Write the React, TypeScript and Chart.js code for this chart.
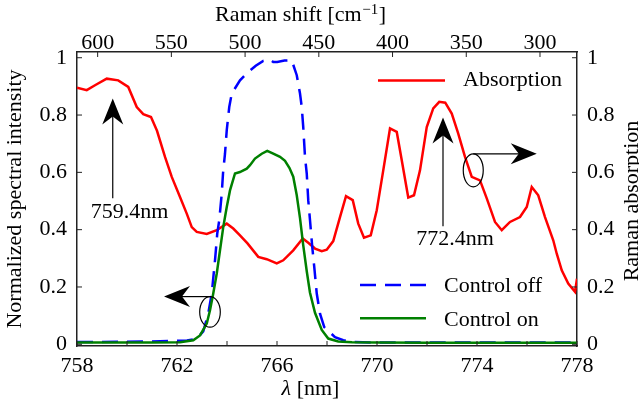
import React, { useEffect, useRef } from "react";
import { Chart, registerables } from "chart.js";

Chart.register(...registerables);

const FONT = '"Liberation Serif", "Times New Roman", serif';
const AXIS_COLOR = "#222";

// ---- data ----
const absLambda = [
  758.0, 758.39, 758.72, 759.19, 759.65, 760.05, 760.39, 760.65, 760.96, 761.2, 761.52, 761.79,
  762.12, 762.39, 762.59, 762.79, 763.19, 763.59, 763.99, 764.25, 764.5, 764.82, 765.25, 765.59,
  765.99, 766.25, 766.65, 767.03, 767.25, 767.52, 767.79, 767.99, 768.25, 768.52, 768.76, 769.03,
  769.25, 769.48, 769.75, 769.99, 770.25, 770.52, 770.79, 770.99, 771.25, 771.48, 771.72, 771.99,
  772.25, 772.49, 772.73, 772.99, 773.25, 773.52, 773.79, 774.12, 774.39, 774.72, 774.99, 775.32,
  775.72, 775.99, 776.19, 776.45, 776.72, 777.05, 777.19, 777.39, 777.65, 777.92, 778.0,
];
const absValue = [
  0.895, 0.887, 0.904, 0.927, 0.921, 0.898, 0.828, 0.803, 0.793, 0.745, 0.654, 0.584,
  0.514, 0.456, 0.409, 0.392, 0.385, 0.398, 0.421, 0.404, 0.382, 0.352, 0.305, 0.297,
  0.282, 0.293, 0.328, 0.369, 0.354, 0.334, 0.325, 0.33, 0.36, 0.444, 0.517, 0.503,
  0.421, 0.372, 0.38, 0.468, 0.607, 0.753, 0.741, 0.642, 0.512, 0.52, 0.607, 0.758,
  0.823, 0.846, 0.843, 0.805, 0.735, 0.654, 0.584, 0.572, 0.509, 0.427, 0.398, 0.427,
  0.444, 0.479, 0.549, 0.52, 0.444, 0.363, 0.316, 0.258, 0.212, 0.183, 0.229,
];

const offLambda = [
  758, 759, 760, 761, 762, 762.4, 762.8, 763.05, 763.25, 763.39, 763.52, 763.61, 763.69, 763.79,
  763.84, 763.92, 763.99, 764.09, 764.19, 764.52, 764.85, 765.15, 765.45, 765.72, 765.85, 766.01,
  766.3, 766.59, 766.79, 766.92, 766.99, 767.05, 767.12, 767.19, 767.25, 767.32, 767.41, 767.49,
  767.59, 767.72, 767.89, 768.32, 768.65, 769.04, 770, 772, 774, 776, 778,
];
const offValue = [
  0.008, 0.008, 0.009, 0.01, 0.012, 0.013, 0.02, 0.045, 0.107, 0.177, 0.293, 0.386, 0.433, 0.526,
  0.596, 0.665, 0.747, 0.828, 0.875, 0.921, 0.95, 0.972, 0.989, 0.994, 0.985, 0.985,
  0.99, 0.991, 0.939, 0.875, 0.828, 0.758, 0.654, 0.596, 0.503, 0.433, 0.34, 0.27,
  0.177, 0.107, 0.06, 0.025, 0.014, 0.008, 0.006, 0.006, 0.006, 0.006, 0.006,
];

const onLambda = [
  758, 759, 760, 761, 762.12, 762.65, 762.92, 763.19, 763.32, 763.45, 763.59, 763.72, 763.85,
  763.99, 764.12, 764.32, 764.52, 764.79, 764.92, 765.12, 765.39, 765.61, 765.85, 766.12, 766.32,
  766.5, 766.65, 766.79, 766.92, 767.05, 767.19, 767.32, 767.52, 767.79, 768.05, 768.45, 769, 770,
  772, 774, 776, 778,
];
const onValue = [
  0.006, 0.006, 0.006, 0.006, 0.007, 0.014, 0.031, 0.072, 0.119, 0.177, 0.247, 0.328, 0.409,
  0.479, 0.537, 0.596, 0.601, 0.613, 0.625, 0.648, 0.665, 0.675, 0.665, 0.654, 0.64,
  0.615, 0.585, 0.52, 0.44, 0.345, 0.255, 0.18, 0.11, 0.05, 0.02, 0.01, 0.007, 0.006,
  0.005, 0.005, 0.005, 0.005,
];

const lambdaTicks = [758, 760, 762, 764, 766, 768, 770, 772, 774, 776, 778];
const lambdaLabels = [758, 762, 766, 770, 774, 778];
const ramanTicks = [600, 550, 500, 450, 400, 350, 300];
const yTicks = [0, 0.2, 0.4, 0.6, 0.8, 1];

const seriesNames = ["Absorption", "Control off", "Control on"];
const peakLabels = ["759.4nm", "772.4nm"];
const peakLambda = [759.43, 772.64];
const peakTip = [0.858, 0.791];
const peakBase = [0.51, 0.412];
const peakTextLambda = [760.1, 773.12];
const peakTextValue = [0.439, 0.346];

// ---- axis ranges ----
const X_MIN = 758;
const X_MAX = 778;
const RAMAN_MIN = 274.9;
const RAMAN_MAX = 614.0;
const Y_MIN = -0.006;
const Y_MAX = 1.02;

const COLORS = { abs: "#ff0000", off: "#0000ff", on: "#008000" };
const DASH = [16, 9];
const LW = 2.5;

function pts(xs: number[], ys: number[]) {
  return xs.map((x, i) => ({ x, y: ys[i] }));
}

function arrowHead(ctx: CanvasRenderingContext2D, tx: number, ty: number, dx: number, dy: number) {
  const L = 26, W = 10.5, N = 18;
  const nx = -dy, ny = dx;
  const bx = tx - dx * L, by = ty - dy * L;
  ctx.beginPath();
  ctx.moveTo(tx, ty);
  ctx.lineTo(bx + nx * W, by + ny * W);
  ctx.lineTo(tx - dx * N, ty - dy * N);
  ctx.lineTo(bx - nx * W, by - ny * W);
  ctx.closePath();
  ctx.fill();
}

const overlay = {
  id: "overlay",
  afterDraw(chart: any) {
    const { ctx, chartArea: a, scales } = chart;
    const x = scales.x, y = scales.y, x2 = scales.x2, y2 = scales.y2;
    const TL = 5;
    ctx.save();
    // inward tick marks
    ctx.strokeStyle = AXIS_COLOR;
    ctx.lineWidth = 1;
    ctx.beginPath();
    x.ticks.forEach((t: any) => {
      const p = x.getPixelForValue(t.value);
      ctx.moveTo(p, a.bottom); ctx.lineTo(p, a.bottom - TL);
    });
    x2.ticks.forEach((t: any) => {
      const p = x2.getPixelForValue(t.value);
      ctx.moveTo(p, a.top); ctx.lineTo(p, a.top + TL);
    });
    y.ticks.forEach((t: any) => {
      const p = y.getPixelForValue(t.value);
      ctx.moveTo(a.left, p); ctx.lineTo(a.left + TL, p);
    });
    y2.ticks.forEach((t: any) => {
      const p = y2.getPixelForValue(t.value);
      ctx.moveTo(a.right, p); ctx.lineTo(a.right - TL, p);
    });
    ctx.stroke();

    // peak arrows and labels
    ctx.fillStyle = "#000";
    ctx.strokeStyle = "#000";
    ctx.lineWidth = 1.2;
    ctx.font = `22px ${FONT}`;
    ctx.textAlign = "center";
    ctx.textBaseline = "alphabetic";
    peakLabels.forEach((label, i) => {
      const px = x.getPixelForValue(peakLambda[i]);
      const tip = y.getPixelForValue(peakTip[i]);
      const base = y.getPixelForValue(peakBase[i]);
      ctx.beginPath();
      ctx.moveTo(px, base); ctx.lineTo(px, tip + 15);
      ctx.stroke();
      arrowHead(ctx, px, tip, 0, -1);
      ctx.fillText(label, x.getPixelForValue(peakTextLambda[i]), y.getPixelForValue(peakTextValue[i]));
    });

    // ellipse markers with axis-pointing arrows
    const markers = [
      { lx: 773.85, ly: 0.607, rx: 10, ry: 16.5, tipX: 776.39, dir: 1 },
      { lx: 763.32, ly: 0.113, rx: 10.3, ry: 15.3, tipX: 761.48, dir: -1 },
    ];
    markers.forEach((m) => {
      const cx = x.getPixelForValue(m.lx), cy = y.getPixelForValue(m.ly);
      ctx.beginPath();
      ctx.ellipse(cx, cy, m.rx, m.ry, 0, 0, Math.PI * 2);
      ctx.stroke();
      const ty = cy - m.ry;
      const tx = x.getPixelForValue(m.tipX);
      ctx.beginPath();
      ctx.moveTo(cx, ty); ctx.lineTo(tx - m.dir * 15, ty);
      ctx.stroke();
      arrowHead(ctx, tx, ty, m.dir, 0);
    });

    // legends
    ctx.textAlign = "left";
    ctx.lineWidth = LW;
    ctx.strokeStyle = COLORS.abs;
    ctx.beginPath();
    ctx.moveTo(a.right - 199, a.top + 28.5); ctx.lineTo(a.right - 132, a.top + 28.5);
    ctx.stroke();
    ctx.fillText(seriesNames[0], a.right - 114, a.top + 33.5);

    ctx.strokeStyle = COLORS.off;
    ctx.setLineDash(DASH);
    ctx.beginPath();
    ctx.moveTo(a.right - 217, a.bottom - 61); ctx.lineTo(a.right - 151, a.bottom - 61);
    ctx.stroke();
    ctx.setLineDash([]);
    ctx.fillText(seriesNames[1], a.right - 133, a.bottom - 54);

    ctx.strokeStyle = COLORS.on;
    ctx.beginPath();
    ctx.moveTo(a.right - 217, a.bottom - 27.7); ctx.lineTo(a.right - 151, a.bottom - 27.7);
    ctx.stroke();
    ctx.fillText(seriesNames[2], a.right - 133, a.bottom - 20.5);

    // top axis title with superscript
    const main = "Raman shift [cm";
    const sup = "\u22121";
    const end = "]";
    ctx.font = `22px ${FONT}`;
    const w1 = ctx.measureText(main).width;
    const w3 = ctx.measureText(end).width;
    ctx.font = `15px ${FONT}`;
    const w2 = ctx.measureText(sup).width;
    const total = w1 + w2 + w3 + 1;
    let sx = 300.5 - total / 2;
    const by = a.top - 31;
    ctx.font = `22px ${FONT}`;
    ctx.fillText(main, sx, by);
    sx += w1 + 0.5;
    ctx.font = `15px ${FONT}`;
    ctx.fillText(sup, sx, by - 7);
    sx += w2 + 0.5;
    ctx.font = `22px ${FONT}`;
    ctx.fillText(end, sx, by);

    // bottom axis title
    ctx.font = `italic 22px ${FONT}`;
    const wl = ctx.measureText("\u03bb").width;
    ctx.font = `22px ${FONT}`;
    const wr = ctx.measureText(" [nm]").width;
    let bx = 310.5 - (wl + wr) / 2;
    ctx.font = `italic 22px ${FONT}`;
    ctx.fillText("\u03bb", bx, a.bottom + 49);
    ctx.font = `22px ${FONT}`;
    ctx.fillText(" [nm]", bx + wl, a.bottom + 49);

    // right axis title (reads bottom-to-top)
    ctx.translate(a.right + 61, (a.top + a.bottom) / 2 + 2);
    ctx.rotate(-Math.PI / 2);
    ctx.textAlign = "center";
    ctx.fillText("Raman absorption", 0, 0);
    ctx.restore();
  },
};

export default function App() {
  const ref = useRef<HTMLCanvasElement>(null);
  useEffect(() => {
    document.body.style.margin = "0";
    const tickFont = { family: FONT, size: 22, lineHeight: 1 };
    const chart = new Chart(ref.current as HTMLCanvasElement, {
      type: "line",
      data: {
        datasets: [
          {
            label: seriesNames[2],
            data: pts(onLambda, onValue),
            borderColor: COLORS.on,
            borderWidth: LW,
            pointRadius: 0,
            tension: 0,
            fill: false,
            xAxisID: "x",
            yAxisID: "y",
          },
          {
            label: seriesNames[1],
            data: pts(offLambda, offValue),
            borderColor: COLORS.off,
            borderWidth: LW,
            borderDash: DASH,
            pointRadius: 0,
            tension: 0,
            fill: false,
            xAxisID: "x",
            yAxisID: "y",
          },
          {
            label: seriesNames[0],
            data: pts(absLambda, absValue),
            borderColor: COLORS.abs,
            borderWidth: LW,
            pointRadius: 0,
            tension: 0,
            fill: false,
            xAxisID: "x",
            yAxisID: "y2",
          },
        ],
      },
      options: {
        responsive: false,
        animation: false,
        events: [],
        devicePixelRatio: 1,
        layout: { padding: 0 },
        plugins: { legend: { display: false }, tooltip: { enabled: false } },
        scales: {
          x: {
            type: "linear",
            position: "bottom",
            min: X_MIN,
            max: X_MAX,
            afterBuildTicks: (s: any) => { s.ticks = lambdaTicks.map((v) => ({ value: v })); },
            afterFit: (s: any) => { s.height = 62; },
            grid: { display: false, drawTicks: false },
            border: { display: true, color: AXIS_COLOR, width: 1.5 },
            ticks: {
              autoSkip: false,
              maxRotation: 0,
              padding: 9,
              color: "#000",
              font: tickFont,
              callback: (v: any) => (lambdaLabels.includes(Number(v)) ? String(v) : ""),
            },
          },
          x2: {
            type: "linear",
            position: "top",
            min: RAMAN_MIN,
            max: RAMAN_MAX,
            reverse: true,
            afterBuildTicks: (s: any) => { s.ticks = ramanTicks.map((v) => ({ value: v })); },
            afterFit: (s: any) => { s.height = 52; },
            grid: { display: false, drawTicks: false },
            border: { display: true, color: AXIS_COLOR, width: 1.5 },
            ticks: {
              autoSkip: false,
              maxRotation: 0,
              padding: -2,
              color: "#000",
              font: tickFont,
              callback: (v: any) => String(v),
            },
          },
          y: {
            type: "linear",
            position: "left",
            min: Y_MIN,
            max: Y_MAX,
            afterBuildTicks: (s: any) => { s.ticks = yTicks.map((v) => ({ value: v })); },
            afterFit: (s: any) => { s.width = 77; },
            grid: { display: false, drawTicks: false },
            border: { display: true, color: AXIS_COLOR, width: 1.5 },
            title: {
              display: true,
              text: "Normalized spectral intensity",
              color: "#000",
              font: { family: FONT, size: 22 },
              padding: { top: 2, bottom: 0 },
            },
            ticks: {
              padding: 10,
              color: "#000",
              font: tickFont,
              callback: (v: any) => String(v),
            },
          },
          y2: {
            type: "linear",
            position: "right",
            min: Y_MIN,
            max: Y_MAX,
            afterBuildTicks: (s: any) => { s.ticks = yTicks.map((v) => ({ value: v })); },
            afterFit: (s: any) => { s.width = 62; },
            grid: { display: false, drawTicks: false },
            border: { display: true, color: AXIS_COLOR, width: 1.5 },
            ticks: {
              padding: 10,
              color: "#000",
              font: tickFont,
              callback: (v: any) => String(v),
            },
          },
        },
      },
      plugins: [overlay],
    } as any);
    return () => chart.destroy();
  }, []);
  return (
    <div style={{ width: 639, height: 408 }}>
      <canvas ref={ref} width={639} height={408} style={{ display: "block" }} />
    </div>
  );
}
